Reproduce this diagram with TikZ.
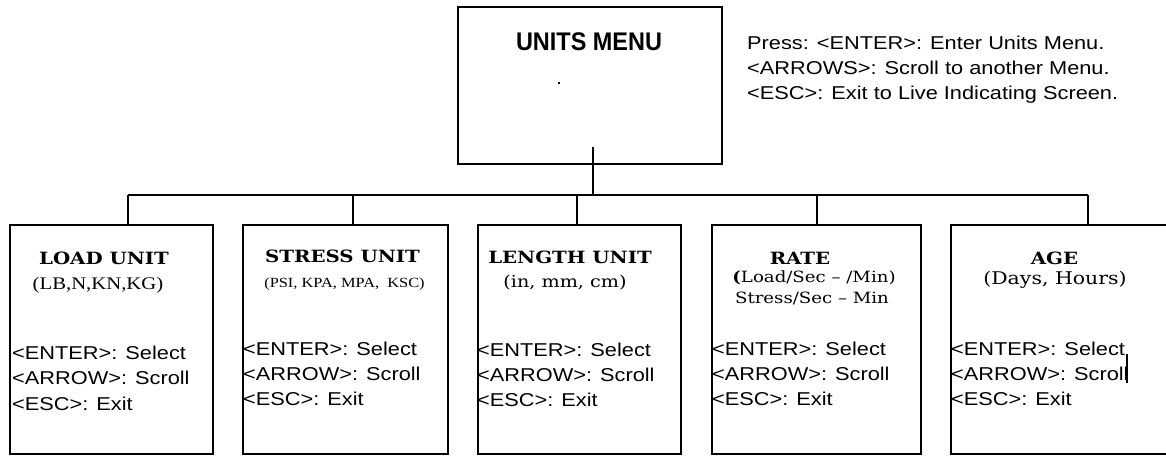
\documentclass[tikz,border=0pt]{standalone}
\usepackage{fontspec}
\setmainfont{Liberation Sans}[FakeStretch=1.17]
\newfontfamily\menufont{Liberation Sans}[FakeStretch=0.92]
\newfontfamily\bkfont{DejaVu Serif}[FakeStretch=1.17]
\newfontfamily\tmfont{Liberation Serif}[FakeStretch=1.17]
\tikzset{
  boxnode/.style={draw, line width=1.6pt, rectangle, inner sep=0pt, anchor=north west},
  link/.style={line width=1.1pt},
  keytext/.style={inner sep=0pt, anchor=base west, align=left, font=\fontsize{18.6}{25.2}\selectfont},
  ttl/.style={inner sep=0pt, anchor=base, font=\bkfont\bfseries\fontsize{16.9}{20}\selectfont},
  subbk/.style={inner sep=0pt, anchor=base, font=\bkfont\fontsize{15.5}{20}\selectfont},
  subtm/.style={inner sep=0pt, anchor=base, font=\tmfont\fontsize{17.7}{20}\selectfont},
}
\begin{document}
\begin{tikzpicture}[x=1pt,y=-1pt]
\useasboundingbox (0,0) rectangle (1166,455);
\clip (0,0) rectangle (1166,455);
% top box
\node[boxnode, minimum width=264pt, minimum height=157pt] (menu) at (457,6) {};
\node[inner sep=0pt, anchor=base, font=\menufont\bfseries\fontsize{25.5}{30}\selectfont] (menutitle) at (589,50) {UNITS MENU};
\fill (558,82) rectangle (560,84);
% anchor=base of a multi-line node is the baseline of its last line
\node[keytext] (help) at (747,99.4) {Press: <ENTER>: Enter Units Menu.\\<ARROWS>: Scroll to another Menu.\\<ESC>: Exit to Live Indicating Screen.};
% lower boxes
\node[boxnode, minimum width=203pt, minimum height=229pt] (b1) at (9,224) {};
\node[boxnode, minimum width=205pt, minimum height=229pt] (b2) at (242,224) {};
\node[boxnode, minimum width=203pt, minimum height=229pt] (b3) at (477,224) {};
\node[boxnode, minimum width=209pt, minimum height=229pt] (b4) at (711,224) {};
\node[boxnode, minimum width=230pt, minimum height=229pt] (b5) at (950,224) {};
% connectors
\coordinate (stub) at (593,147);
\coordinate (j0) at (593,195);
\coordinate (j1) at (128,195);
\coordinate (j2) at (353,195);
\coordinate (j3) at (577,195);
\coordinate (j4) at (817,195);
\coordinate (j5) at (1088,195);
\draw[link] (stub) -- (j0);
\draw[link] (j1) -- (j5);
\draw[link] (j1) -- (j1 |- b1.north);
\draw[link] (j2) -- (j2 |- b2.north);
\draw[link] (j3) -- (j3 |- b3.north);
\draw[link] (j4) -- (j4 |- b4.north);
\draw[link] (j5) -- (j5 |- b5.north);
% box texts
\node[ttl] (t1) at (104,264) {LOAD UNIT};
\node[subtm] (s1) at (98,289) {(LB,N,KN,KG)};
\node[keytext] (k1) at (12,410) {<ENTER>: Select\\<ARROW>: Scroll\\<ESC>: Exit};
\node[ttl] (t2) at (342.5,262) {STRESS UNIT};
\node[subtm, font=\tmfont\fontsize{14}{16}\selectfont] (s2) at (344.5,287) {(PSI, KPA, MPA,\ \ KSC)};
\node[keytext] (k2) at (243,405.4) {<ENTER>: Select\\<ARROW>: Scroll\\<ESC>: Exit};
\node[ttl] (t3) at (570,263) {LENGTH UNIT};
\node[subbk, font=\bkfont\fontsize{16.4}{20}\selectfont] (s3) at (565,287) {(in, mm, cm)};
\node[keytext] (k3) at (477,406.4) {<ENTER>: Select\\<ARROW>: Scroll\\<ESC>: Exit};
\node[ttl] (t4) at (800,264) {RATE};
\node[subbk] (s4a) at (814,282) {{\bfseries(}Load/Sec – /Min)};
\node[subbk] (s4b) at (812,303) {Stress/Sec – Min};
\node[keytext] (k4) at (712,405.4) {<ENTER>: Select\\<ARROW>: Scroll\\<ESC>: Exit};
\node[ttl] (t5) at (1054.5,264) {AGE};
\node[subbk, font=\bkfont\fontsize{17.5}{20}\selectfont] (s5) at (1055,284) {(Days, Hours)};
\node[keytext] (k5) at (951,405.4) {<ENTER>: Select\\<ARROW>: Scroll\\<ESC>: Exit};
\draw[line width=1.4pt] (1127,354) -- (1127,383);
\end{tikzpicture}
\end{document}
